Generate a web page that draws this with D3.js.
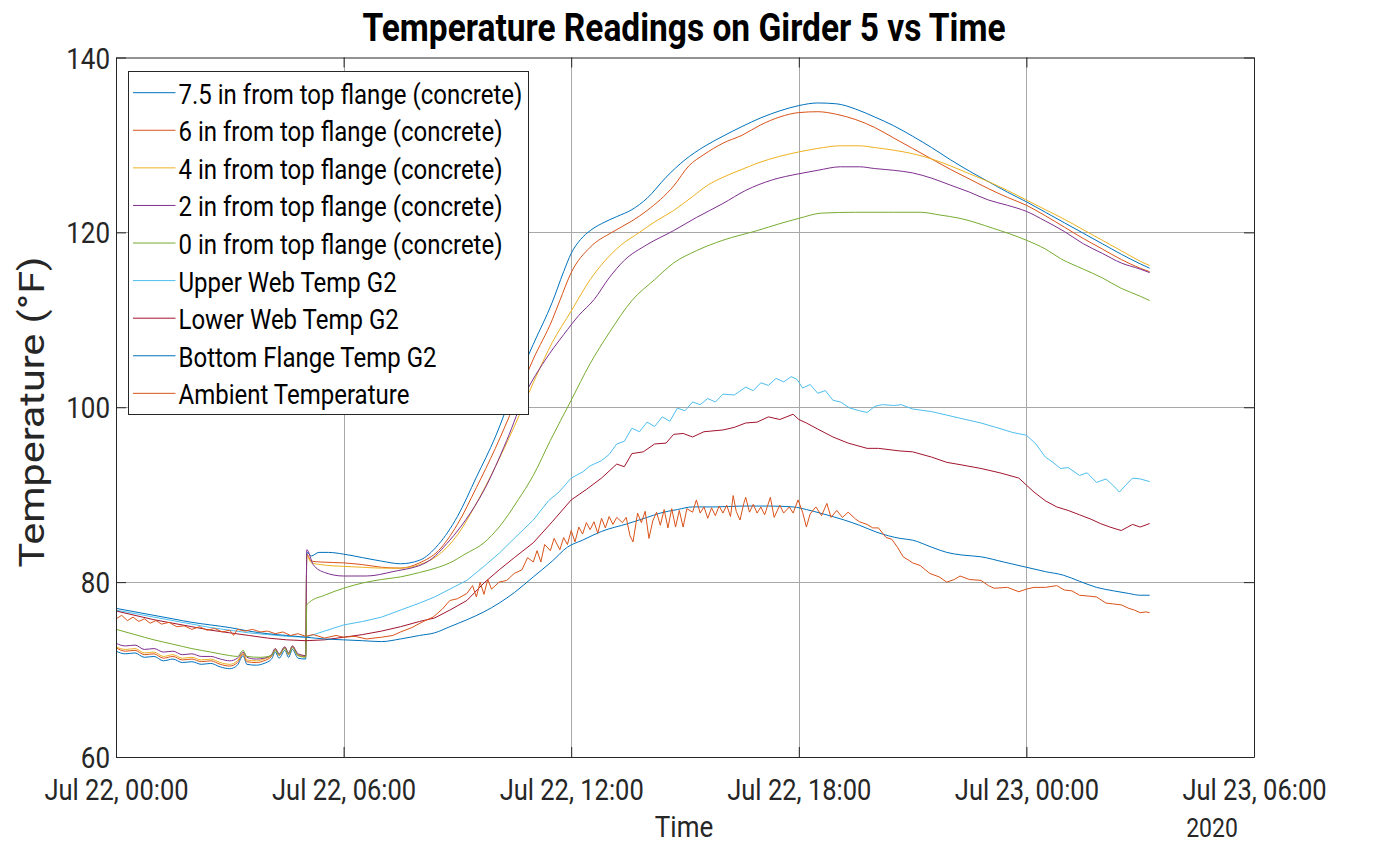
<!DOCTYPE html>
<html lang="en">
<head>
<meta charset="UTF-8">
<title>Temperature Readings on Girder 5 vs Time</title>
<script src="https://cdn.jsdelivr.net/npm/d3@7"></script>
<style>
  body { margin: 0; background: #fff; }
  svg { display: block; font-family: Roboto, "Liberation Sans", Arial, sans-serif; }
</style>
</head>
<body>
<div id="chart"></div>
<script>
// each series: [hours after Jul 22 00:00, temperature °F]
var conc75 = [[0,72.1],[0.25,71.8],[0.5,71.9],[0.75,71.4],[1,71.5],[1.25,71.0],[1.5,71.2],[1.75,70.8],[2,70.9],[2.25,70.6],[2.5,70.7],[2.75,70.3],[3,70.1],[3.2,70.5],[3.35,71.6],[3.45,70.6],[3.7,70.5],[3.9,70.7],[4.1,71.2],[4.2,72.0],[4.3,71.3],[4.45,72.2],[4.55,71.4],[4.65,72.3],[4.8,71.3],[5.0,71.2],[5.03,83.4],[5.15,83.0],[5.35,83.4],[5.6,83.4],[6,83.2],[6.5,82.8],[7,82.4],[7.5,82.1],[8,82.5],[8.5,84.3],[9,87.5],[9.5,92.0],[10,96.6],[10.5,102.2],[11,107.2],[11.5,112.0],[11.8,115.5],[12,117.6],[12.25,119.2],[12.5,120.2],[12.8,121.0],[13.2,121.8],[13.6,122.6],[14,123.9],[14.5,126.3],[15,128.3],[15.5,129.8],[16,131.0],[16.5,132.1],[17,133.1],[17.5,133.9],[18,134.5],[18.5,134.8],[19,134.7],[19.5,134.1],[20,133.2],[20.5,132.2],[21,131.0],[21.5,129.7],[22,128.3],[22.5,127.0],[23,125.8],[23.5,124.6],[24,123.5],[24.5,122.3],[25,121.1],[25.5,119.9],[26,118.7],[26.5,117.5],[27,116.4],[27.25,115.9]];
var conc6 = [[0,72.5],[0.25,72.1],[0.5,72.2],[0.75,71.7],[1,71.8],[1.25,71.3],[1.5,71.5],[1.75,71.1],[2,71.2],[2.25,70.9],[2.5,71.0],[2.75,70.6],[3,70.4],[3.2,70.8],[3.35,71.8],[3.45,70.9],[3.7,70.8],[3.9,71.0],[4.1,71.5],[4.2,72.3],[4.3,71.6],[4.45,72.5],[4.55,71.7],[4.65,72.6],[4.8,71.6],[5.0,71.5],[5.03,83.2],[5.15,82.4],[5.4,82.3],[6,82.2],[6.5,82.0],[7,81.7],[7.5,81.6],[8,82.2],[8.5,83.6],[9,86.6],[9.5,90.8],[10,95.3],[10.5,100.3],[11,105.5],[11.5,110.0],[11.7,112.2],[12,115.4],[12.5,118.3],[13.07,120.0],[13.6,121.3],[14,122.5],[14.7,125.3],[15.1,127.6],[15.5,128.9],[16,130.2],[16.5,131.1],[17,132.3],[17.5,133.2],[18,133.7],[18.5,133.8],[19,133.5],[19.5,132.9],[20,132.0],[20.5,130.8],[21,129.6],[21.5,128.4],[22,127.2],[22.5,126.1],[23,125.0],[23.5,124.0],[24,123.1],[24.5,121.9],[25,120.6],[25.5,119.3],[26,118.1],[26.5,116.9],[27,115.9],[27.25,115.5]];
var conc4 = [[0,72.6],[0.25,72.3],[0.5,72.4],[0.75,71.9],[1,72.0],[1.25,71.5],[1.5,71.7],[1.75,71.3],[2,71.4],[2.25,71.1],[2.5,71.2],[2.75,70.8],[3,70.6],[3.2,71.0],[3.35,71.9],[3.45,71.1],[3.7,71.0],[3.9,71.2],[4.1,71.6],[4.2,72.4],[4.3,71.7],[4.45,72.6],[4.55,71.8],[4.65,72.7],[4.8,71.7],[5.0,71.6],[5.03,83.0],[5.15,82.2],[5.4,82.0],[6,81.8],[6.5,81.7],[7,81.6],[7.5,81.6],[8,82.0],[8.5,83.1],[9,85.4],[9.5,89.0],[10,93.2],[10.5,97.8],[11,102.8],[11.5,107.4],[12,111.0],[12.5,114.6],[12.9,116.8],[13.3,118.5],[13.8,120.0],[14.2,121.2],[14.7,122.5],[15.2,124.1],[15.6,125.4],[16,126.3],[16.5,127.2],[16.9,127.9],[17.5,128.7],[18,129.2],[18.5,129.6],[19.1,129.9],[19.6,129.9],[20,129.7],[20.5,129.4],[21,129.0],[21.5,128.4],[22,127.6],[22.5,126.7],[23,125.8],[23.5,124.8],[24,123.7],[24.5,122.6],[25,121.5],[25.5,120.3],[26,119.1],[26.5,117.9],[27,116.7],[27.25,116.2]];
var conc2 = [[0,73.0],[0.25,72.7],[0.5,72.8],[0.75,72.3],[1,72.4],[1.25,72.0],[1.5,72.1],[1.75,71.7],[2,71.8],[2.25,71.5],[2.5,71.5],[2.75,71.2],[3,71.0],[3.2,71.3],[3.35,72.0],[3.45,71.4],[3.7,71.2],[3.9,71.3],[4.1,71.7],[4.2,72.4],[4.3,71.8],[4.45,72.6],[4.55,71.9],[4.65,72.7],[4.8,71.8],[5.0,71.6],[5.03,83.7],[5.2,82.0],[5.5,81.1],[6,80.7],[6.6,80.7],[7.3,81.2],[8.2,82.3],[8.8,84.8],[9.2,87.0],[9.7,90.5],[10.3,96.2],[10.8,101.6],[11.3,105.3],[11.8,108.3],[12.2,110.5],[12.6,112.3],[13.0,114.8],[13.4,116.8],[14.0,118.6],[14.7,120.2],[15.3,121.7],[16.0,123.3],[16.6,124.8],[17.3,126.0],[18,126.7],[18.5,127.1],[19.1,127.5],[19.6,127.5],[20,127.3],[20.5,127.1],[21,126.8],[21.5,126.2],[22,125.4],[22.5,124.6],[23,123.7],[23.5,123.1],[24,122.4],[24.5,121.3],[25,120.1],[25.5,118.7],[26,117.6],[26.5,116.5],[27,115.8],[27.25,115.4]];
var conc0 = [[0,74.6],[0.5,74.0],[1,73.4],[1.5,72.9],[2,72.4],[2.5,72.0],[3,71.6],[3.2,71.5],[3.35,72.2],[3.45,71.5],[3.8,71.4],[4.1,71.6],[4.2,72.2],[4.3,71.7],[4.45,72.4],[4.55,71.8],[4.65,72.5],[4.8,71.6],[5.0,71.4],[5.03,77.4],[5.1,77.7],[5.5,78.5],[6,79.3],[6.5,79.9],[7,80.3],[7.5,80.6],[8,81.1],[8.5,81.7],[8.8,82.2],[9.2,83.2],[9.7,84.5],[10.1,86.3],[10.6,89.4],[11,92.2],[11.45,96.2],[12,100.8],[12.5,105.0],[13,108.5],[13.6,112.2],[14.2,114.6],[14.7,116.5],[15.3,117.9],[16,119.1],[16.9,120.2],[17.5,121.0],[18,121.6],[18.6,122.2],[19.5,122.3],[20.5,122.3],[21.2,122.3],[21.7,122.0],[22.25,121.6],[23.1,120.5],[24,119.1],[24.5,118.1],[24.9,117.0],[25.5,115.8],[26,114.8],[26.5,113.6],[27,112.7],[27.25,112.2]];
var upperWeb = [[0,76.8],[0.5,76.4],[1,76.0],[1.5,75.6],[2,75.2],[2.5,74.8],[3,74.5],[3.5,74.2],[4,74.0],[4.5,73.8],[5,73.7],[5.5,74.4],[6,75.1],[6.5,75.5],[7,76.0],[7.5,76.8],[8,77.6],[8.4,78.3],[8.8,79.2],[9.25,80.2],[9.7,81.8],[10.1,83.3],[10.5,85.0],[11,87.1],[11.4,89.3],[11.7,90.4],[12,91.9],[12.3,92.6],[12.5,93.3],[12.8,93.9],[13.0,94.6],[13.2,95.8],[13.4,96.1],[13.6,97.6],[13.8,97.2],[14.0,98.3],[14.2,97.8],[14.4,98.9],[14.6,98.4],[14.8,99.9],[15.0,99.6],[15.2,100.6],[15.4,100.3],[15.6,101.0],[15.8,100.6],[16.0,101.5],[16.3,101.4],[16.6,102.3],[16.8,101.9],[17.0,102.8],[17.2,102.5],[17.4,103.3],[17.6,102.9],[17.8,103.5],[17.95,103.2],[18.1,102.2],[18.3,102.6],[18.5,101.6],[18.7,101.9],[18.9,100.8],[19.1,100.6],[19.35,99.9],[19.6,99.6],[19.8,99.4],[20.0,100.1],[20.2,100.3],[20.5,100.2],[20.7,100.3],[21.0,99.8],[21.5,99.5],[21.9,99.1],[22.3,98.7],[22.8,98.2],[23.2,97.7],[23.65,97.1],[24,96.8],[24.25,95.8],[24.5,94.3],[24.7,93.7],[24.9,93.0],[25.1,93.1],[25.4,92.2],[25.6,92.5],[25.85,91.4],[26.1,91.8],[26.3,91.0],[26.45,90.3],[26.6,91.0],[26.8,91.9],[27.0,91.8],[27.25,91.5]];
var lowerWeb = [[0,76.7],[0.5,76.2],[1,75.7],[1.5,75.3],[2,74.9],[2.5,74.5],[3,74.2],[3.5,73.9],[4,73.6],[4.5,73.4],[5,73.3],[5.5,73.4],[6,73.7],[6.5,74.0],[7,74.4],[7.5,74.9],[8,75.5],[8.4,75.9],[8.8,76.8],[9.25,77.9],[9.7,79.9],[10.1,81.4],[10.5,82.8],[11,84.5],[11.5,86.9],[12,89.4],[12.4,90.6],[12.8,91.9],[13.2,93.5],[13.4,93.2],[13.6,94.7],[13.9,94.9],[14.2,95.8],[14.5,95.9],[14.7,96.9],[14.95,97.0],[15.2,96.6],[15.5,97.2],[16.0,97.4],[16.3,97.7],[16.6,98.2],[16.9,98.3],[17.2,98.9],[17.5,98.6],[17.85,99.2],[18.0,98.6],[18.2,98.2],[18.5,97.5],[18.9,96.6],[19.3,95.9],[19.8,95.3],[20.1,95.3],[20.67,95.0],[21,94.9],[21.5,94.3],[21.9,93.7],[22.3,93.4],[22.8,93.0],[23.3,92.5],[23.8,91.9],[24.2,90.3],[24.5,89.3],[24.8,88.6],[25.1,88.2],[25.4,87.7],[25.7,87.2],[25.95,86.7],[26.2,86.3],[26.5,85.9],[26.8,86.6],[27.0,86.3],[27.25,86.7]];
var bottomFlange = [[0,77.0],[0.5,76.6],[1,76.2],[1.5,75.8],[2,75.4],[2.5,75.1],[3,74.8],[3.5,74.4],[4,74.1],[4.5,73.9],[5,73.7],[5.5,73.5],[6,73.4],[6.5,73.3],[7,73.2],[7.5,73.5],[8,73.9],[8.4,74.2],[8.8,74.9],[9.25,75.7],[9.7,76.6],[10.1,77.6],[10.5,78.8],[11,80.6],[11.5,82.4],[11.9,84.0],[12.3,84.8],[12.8,85.8],[13.5,86.7],[14.0,87.4],[14.35,87.9],[14.8,88.3],[15.2,88.6],[15.8,88.6],[16.5,88.7],[17.2,88.7],[17.85,88.6],[18.2,88.3],[18.56,87.9],[19.2,87.1],[19.6,86.5],[20.06,85.7],[20.67,85.0],[21,84.8],[21.5,84.0],[21.9,83.4],[22.3,83.1],[22.8,82.9],[23.4,82.3],[24,81.7],[24.5,81.2],[24.97,80.8],[25.4,80.1],[25.85,79.4],[26.3,79.0],[26.7,78.7],[27.0,78.5],[27.25,78.5]];
var ambient = [[0,75.8],[0.15,76.2],[0.3,75.6],[0.45,76.0],[0.6,75.5],[0.75,75.8],[0.9,75.3],[1.05,75.6],[1.2,75.2],[1.4,75.4],[1.6,74.9],[1.8,75.0],[2.0,74.6],[2.2,74.9],[2.4,74.5],[2.6,74.7],[2.8,74.3],[3.0,74.5],[3.1,73.9],[3.2,74.6],[3.4,74.4],[3.6,74.6],[3.8,74.3],[4.0,74.4],[4.2,74.1],[4.4,74.3],[4.6,73.9],[4.8,74.1],[5.0,73.8],[5.2,74.0],[5.5,73.6],[5.8,73.9],[6.0,73.7],[6.3,73.8],[6.6,73.5],[7.0,73.7],[7.3,73.9],[7.5,74.3],[7.8,74.8],[8.1,75.5],[8.36,76.0],[8.6,76.9],[8.8,77.9],[9.0,78.1],[9.25,78.7],[9.4,79.6],[9.5,78.3],[9.6,80.0],[9.7,78.6],[9.8,80.3],[9.9,79.2],[10.1,80.0],[10.3,80.2],[10.5,81.0],[10.7,81.4],[10.85,82.8],[11.0,82.3],[11.1,83.6],[11.2,82.3],[11.3,84.3],[11.45,83.6],[11.55,85.0],[11.7,83.7],[11.8,85.1],[11.9,84.3],[12.0,85.9],[12.1,84.6],[12.2,86.3],[12.3,85.5],[12.4,86.8],[12.5,86.0],[12.6,86.9],[12.7,85.6],[12.8,87.3],[12.9,86.2],[13.0,87.5],[13.1,86.6],[13.2,87.4],[13.35,86.8],[13.45,87.4],[13.55,85.3],[13.63,84.6],[13.75,87.9],[13.85,86.8],[13.95,88.1],[14.05,85.0],[14.15,87.0],[14.25,88.0],[14.35,86.5],[14.45,88.3],[14.55,86.2],[14.65,88.4],[14.75,86.3],[14.85,88.2],[14.95,86.3],[15.05,88.4],[15.2,88.0],[15.3,89.4],[15.4,87.9],[15.5,88.6],[15.6,87.3],[15.7,88.5],[15.8,87.6],[15.9,88.7],[16.0,87.9],[16.1,88.8],[16.2,87.5],[16.27,89.9],[16.35,88.1],[16.45,87.1],[16.55,89.0],[16.6,89.7],[16.7,88.0],[16.8,88.9],[16.9,87.9],[17.0,88.6],[17.1,87.7],[17.25,89.7],[17.35,87.4],[17.5,88.8],[17.6,87.9],[17.75,88.6],[17.85,87.9],[17.98,89.4],[18.1,88.0],[18.2,86.3],[18.3,87.8],[18.45,88.6],[18.6,87.6],[18.74,89.0],[18.85,87.4],[19.0,88.2],[19.15,87.4],[19.3,88.0],[19.5,87.2],[19.6,86.9],[19.8,86.6],[19.95,86.2],[20.1,86.2],[20.3,85.1],[20.45,84.9],[20.6,84.0],[20.75,82.9],[20.9,82.5],[21.0,82.2],[21.2,81.9],[21.45,81.0],[21.7,80.6],[21.9,80.0],[22.1,80.3],[22.25,80.7],[22.5,80.3],[22.8,80.2],[23.0,79.6],[23.15,79.3],[23.5,79.4],[23.8,78.9],[24.0,79.2],[24.2,79.4],[24.5,79.4],[24.8,79.6],[25.0,79.1],[25.2,79.0],[25.4,78.5],[25.65,78.4],[25.85,78.3],[26.1,77.6],[26.3,77.5],[26.5,77.4],[26.7,77.0],[26.85,76.8],[27.0,76.5],[27.15,76.6],[27.25,76.5]];

var seriesNames = ["7.5 in from top flange (concrete)", "6 in from top flange (concrete)", "4 in from top flange (concrete)",
  "2 in from top flange (concrete)", "0 in from top flange (concrete)", "Upper Web Temp G2", "Lower Web Temp G2",
  "Bottom Flange Temp G2", "Ambient Temperature"];
var seriesData = [conc75, conc6, conc4, conc2, conc0, upperWeb, lowerWeb, bottomFlange, ambient];
var smooth = [true, true, true, true, true, false, false, true, false];
var colors = ["#0072BD", "#D95319", "#EDB120", "#7E2F8E", "#77AC30", "#4DBEEE", "#A2142F", "#0072BD", "#D95319"];
var yTicks = [60, 80, 100, 120, 140];

var W = 1381, H = 847;
var margin = {left: 116, right: 127, top: 57.5, bottom: 90};
var t0 = Date.UTC(2020, 6, 22, 0);
var k = 1.15; // the picture's text is drawn a bit taller than wide

var svg = d3.select("#chart").append("svg")
  .attr("width", W)
  .attr("height", H);

var x = d3.scaleUtc()
  .domain([new Date(t0), new Date(Date.UTC(2020, 6, 23, 6))])
  .range([margin.left, W - margin.right]);
var y = d3.scaleLinear()
  .domain([60, 140])
  .range([H - margin.bottom, margin.top]);

var xTicks = x.ticks(d3.utcHour.every(6));
var fmt = d3.utcFormat("%b %d, %H:%M");

// grid
var grid = svg.append("g").attr("stroke", "#a8a8a8").attr("stroke-width", 1);
grid.selectAll(".gx").data(xTicks.slice(1, -1)).enter().append("line")
  .attr("x1", function(d){ return Math.round(x(d)) + 0.5; })
  .attr("x2", function(d){ return Math.round(x(d)) + 0.5; })
  .attr("y1", y(60)).attr("y2", y(140));
grid.selectAll(".gy").data(yTicks.slice(1, -1)).enter().append("line")
  .attr("x1", x.range()[0]).attr("x2", x.range()[1])
  .attr("y1", function(d){ return Math.round(y(d)) + 0.5; })
  .attr("y2", function(d){ return Math.round(y(d)) + 0.5; });

// lines
function makeLine(curve) {
  return d3.line()
    .x(function(d){ return x(new Date(t0 + d[0] * 3600e3)); })
    .y(function(d){ return y(d[1]); })
    .curve(curve);
}
var lineSmooth = makeLine(d3.curveMonotoneX);
var lineRaw = makeLine(d3.curveLinear);

svg.append("g").selectAll("path").data(seriesData).enter().append("path")
  .attr("d", function(d, i){ return smooth[i] ? lineSmooth(d) : lineRaw(d); })
  .attr("fill", "none")
  .attr("stroke", function(d, i){ return colors[i]; })
  .attr("stroke-width", 1)
  .attr("stroke-linejoin", "round");

// axes
var xAxis = svg.append("g")
  .attr("transform", "translate(0," + y(60) + ")")
  .call(d3.axisBottom(x).tickValues(xTicks).tickFormat(fmt).tickSizeInner(-10).tickSizeOuter(0));
var xTop = svg.append("g")
  .attr("transform", "translate(0," + y(140) + ")")
  .call(d3.axisTop(x).tickValues(xTicks).tickFormat("").tickSizeInner(-10).tickSizeOuter(0));
var yAxis = svg.append("g")
  .attr("transform", "translate(" + x.range()[0] + ",0)")
  .call(d3.axisLeft(y).tickValues(yTicks).tickSizeInner(-10).tickSizeOuter(0));
var yRight = svg.append("g")
  .attr("transform", "translate(" + x.range()[1] + ",0)")
  .call(d3.axisRight(y).tickValues(yTicks).tickFormat("").tickSizeInner(-10).tickSizeOuter(0));

[xAxis, xTop, yAxis, yRight].forEach(function(g){
  g.attr("font-family", null).attr("font-size", null);
  g.selectAll(".domain").attr("stroke", "#262626").attr("stroke-width", 1);
  g.selectAll(".tick line").attr("stroke", "#262626");
  g.selectAll("text").attr("fill", "#262626");
});
xAxis.selectAll(".tick text")
  .attr("y", null).attr("dy", null)
  .attr("font-size", 25.5)
  .attr("transform", "translate(0,43) scale(1," + k + ")");
yAxis.selectAll(".tick text")
  .attr("x", null).attr("dy", null)
  .attr("font-size", 26)
  .attr("transform", "translate(-6,10.6) scale(1," + k + ")");

// labels
function label(px, py, size, txt, weight) {
  return svg.append("text")
    .attr("transform", "translate(" + px + "," + py + ") scale(1," + k + ")")
    .attr("text-anchor", "middle")
    .attr("font-size", size)
    .attr("font-weight", weight || "normal")
    .attr("fill", "#262626")
    .text(txt);
}
label(684, 41, 33.5, "Temperature Readings on Girder 5 vs Time", "bold").attr("fill", "#000");
label(684, 837, 26, "Time");
label(1212, 837, 23, "2020");
svg.append("text")
  .attr("transform", "translate(44,412) rotate(-90) scale(" + k + ",1)")
  .attr("text-anchor", "middle")
  .attr("font-size", 36)
  .attr("fill", "#262626")
  .text("Temperature (°F)");

// legend
var lg = svg.append("g").attr("transform", "translate(128.5,71.5)");
lg.append("rect").attr("width", 400).attr("height", 343)
  .attr("fill", "#fff").attr("stroke", "#262626").attr("stroke-width", 1);
seriesNames.forEach(function(name, i){
  var cy = 21.2 + i * 37.58;
  lg.append("line").attr("x1", 4.5).attr("x2", 47).attr("y1", cy).attr("y2", cy)
    .attr("stroke", colors[i]).attr("stroke-width", 1);
  lg.append("text")
    .attr("transform", "translate(50," + (cy + 11) + ") scale(1," + k + ")")
    .attr("font-size", 24).attr("fill", "#000").text(name);
});
</script>
</body>
</html>
